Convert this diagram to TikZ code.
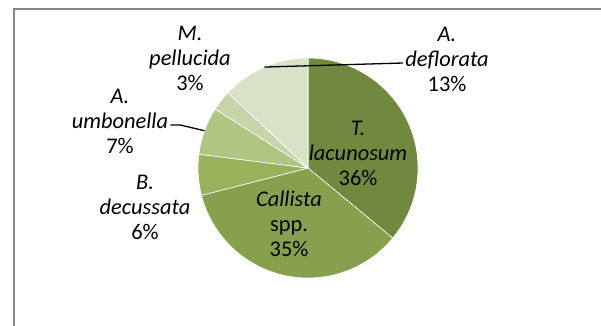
\documentclass[tikz,border=0pt]{standalone}
\usepackage{fontspec}
\setmainfont{Carlito}
\definecolor{lacunFill}{HTML}{71893F}
\definecolor{callFill}{HTML}{87A04E}
\definecolor{decuFill}{HTML}{98B25C}
\definecolor{umboFill}{HTML}{AFC581}
\definecolor{pellFill}{HTML}{C6D4A8}
\definecolor{deflFill}{HTML}{D8E2C5}
\definecolor{frameGray}{HTML}{878787}
\newcommand\PieR{110pt}
\newcommand\PieSlice[4]{%
    \fill[#4,draw=white,line width=0.6pt] (Center) -- ++(#2:\PieR)
        arc[start angle=#2,end angle=#3,radius=\PieR] -- cycle;
    \path (Center) ++({(#2+#3)/2}:\PieR) coordinate (#1Mid);
}
\tikzset{
    label text/.style={align=center,font=\fontsize{22.4}{25}\selectfont,inner sep=2pt},
    leader/.style={black,line width=1.3pt},
}

\begin{document}
\begin{tikzpicture}[x=1pt,y=1pt]
    \useasboundingbox (0,0) rectangle (601,325);
    \clip (0,0) rectangle (601,325);
    \draw[frameGray,line width=1.5pt] (14,-10) |- (620,316);
    \coordinate (Center) at (308,157);
    % slices, clockwise from the top
    \PieSlice{lacun}{90}{-39.6}{lacunFill}
    \PieSlice{call}{-39.6}{-165.6}{callFill}
    \PieSlice{decu}{-165.6}{-187.2}{decuFill}
    \PieSlice{umbo}{-187.2}{-212.4}{umboFill}
    \PieSlice{pell}{-212.4}{-223.2}{pellFill}
    \PieSlice{defl}{-223.2}{-270}{deflFill}
    % labels
    \node[label text] (lacunLabel) at (358,172) {\textit{T.}\\\textit{lacunosum}\\36\%};
    \node[label text] (callLabel) at (289,101) {\textit{Callista}\\spp.\\35\%};
    \node[label text] (decuLabel) at (145,118) {\textit{B.}\\\textit{decussata}\\6\%};
    \node[label text] (umboLabel) at (120,204) {\textit{A.}\\\textit{umbonella}\\7\%};
    \node[label text] (pellLabel) at (190,267) {\textit{M.}\\\textit{pellucida}\\3\%};
    \node[label text] (deflLabel) at (447,266) {\textit{A.}\\\textit{deflorata}\\13\%};
    % leader lines
    \draw[leader] (deflMid) -- ([yshift=-4pt]deflLabel.west);
    \draw[leader] (umboMid) -- ([xshift=10pt,yshift=-4pt]umboLabel.east) -- ([yshift=-4pt]umboLabel.east);
\end{tikzpicture}
\end{document}
